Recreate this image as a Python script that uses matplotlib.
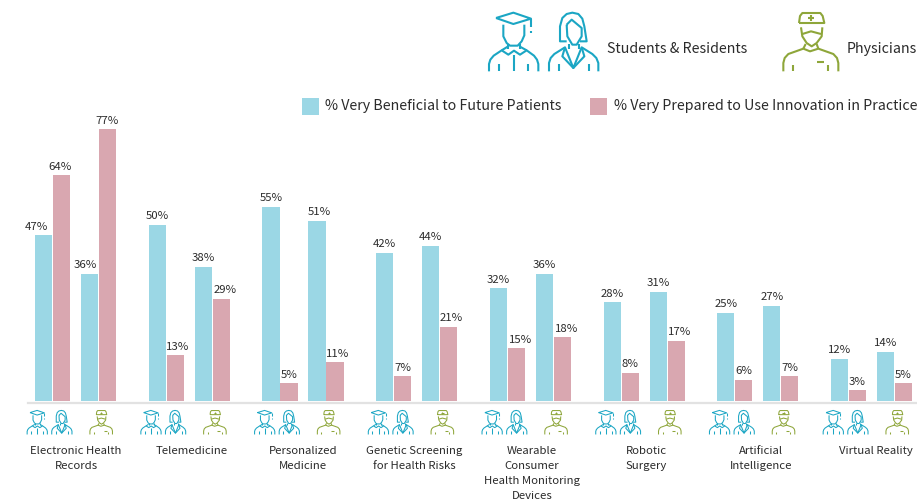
"""Survey chart: perceived benefit vs. preparedness for health care innovations."""
import matplotlib

matplotlib.use("Agg")
import matplotlib.pyplot as plt
from matplotlib.patches import Rectangle

plt.rcParams["font.family"] = ["Noto Sans CJK SC", "DejaVu Sans"]

categories = [
    "Electronic Health\nRecords",
    "Telemedicine",
    "Personalized\nMedicine",
    "Genetic Screening\nfor Health Risks",
    "Wearable\nConsumer\nHealth Monitoring\nDevices",
    "Robotic\nSurgery",
    "Artificial\nIntelligence",
    "Virtual Reality",
]
student_benefit = [47, 50, 55, 42, 32, 28, 25, 12]
student_prepared = [64, 13, 5, 7, 15, 8, 6, 3]
physician_benefit = [36, 38, 51, 44, 36, 31, 27, 14]
physician_prepared = [77, 29, 11, 21, 18, 17, 7, 5]

# sideways shift of the value labels, px
nudge_student_benefit = [-7, 0, 0, 0, 0, 0, 0, 0]
nudge_student_prepared = [-1, 2.5, 0, 0, 4, 0, 0, 0]
nudge_physician_benefit = [-4, 0, 2, 0, 0, 0, 0, 0]
nudge_physician_prepared = [0, 3.5, 3, 3, 4, 4, 0, 0]
# sideways shift of the category labels, px
nudge_category = [0.5, 2.5, 0, -2, 1.5, 2, 3.5, 4]

BLUE = "#9bd7e5"
PINK = "#d9a7b0"
TEAL = "#1ba6c4"
OLIVE = "#8ea63a"
INK = "#2b2b2b"

W, H = 917, 501
PITCH = 113.72  # px between groups
X0 = 75.5  # px of first group centre
BASE = 401  # px of the zero line
PX_PER_PCT = 3.53

# icon outlines, in 1/3 px with y pointing down
STUDENT = [
    [(33, 30), (85, 14), (138, 32), (85, 48), (33, 30)],
    [(138, 32), (138, 58)],
    [(138, 68), (138, 74)],
    [(55, 50), (55, 85), (65, 105), (75, 113), (98, 113), (110, 100), (118, 82), (118, 50)],
    [(68, 108), (68, 122)],
    [(105, 108), (105, 122)],
    [(12, 190), (12, 168), (16, 155), (26, 143), (50, 127), (70, 140), (87, 128), (105, 140),
     (125, 127), (147, 143), (156, 155), (160, 168), (160, 190)],
    [(50, 127), (68, 116)],
    [(125, 127), (105, 116)],
    [(42, 168), (42, 190)],
    [(130, 168), (130, 190)],
    [(87, 142), (87, 190)],
]
RESIDENT = [
    [(245, 100), (225, 100), (225, 55), (232, 30), (245, 18), (262, 14), (280, 18), (292, 32),
     (298, 55), (305, 100), (285, 100)],
    [(245, 50), (247, 85), (262, 110), (275, 110), (290, 85), (290, 60), (260, 35), (245, 50)],
    [(252, 108), (252, 122)],
    [(282, 108), (282, 122)],
    [(192, 190), (192, 165), (197, 150), (208, 138), (240, 118), (265, 180), (290, 118),
     (322, 138), (334, 150), (340, 165), (340, 190)],
    [(240, 118), (232, 145), (265, 180), (298, 145), (290, 118)],
    [(222, 168), (222, 190)],
    [(312, 168), (312, 190)],
]
PHYSICIAN = [
    [(72, 45), (75, 24), (82, 15), (136, 15), (143, 24), (148, 45), (72, 45)],
    [(100, 30), (116, 30)],
    [(108, 22), (108, 38)],
    [(78, 58), (82, 85), (95, 105), (110, 115), (125, 105), (140, 85), (142, 58)],
    [(82, 78), (108, 70), (138, 78)],
    [(25, 190), (25, 165), (29, 150), (40, 138), (85, 122), (105, 130), (130, 122), (175, 138),
     (186, 150), (190, 165), (190, 190)],
    [(92, 108), (85, 122)],
    [(125, 108), (130, 122)],
    [(55, 172), (55, 190)],
    [(158, 172), (158, 190)],
    [(125, 163), (147, 163)],
]


def draw_icon(ax, shape, x, y, scale, color, lw):
    """Draw an outline with its 1/3 px origin placed at pixel (x, y)."""
    for line in shape:
        xs = [x + p[0] / 3 * scale for p in line]
        ys = [y + p[1] / 3 * scale for p in line]
        ax.plot(xs, ys, color=color, lw=lw, solid_capstyle="butt", solid_joinstyle="round")


fig = plt.figure(figsize=(W / 100, H / 100), dpi=100)
ax = fig.add_axes([0, 0, 1, 1])
ax.set_xlim(-X0 / PITCH, (W - X0) / PITCH)
ax.set_ylim((BASE - H) / PX_PER_PCT, BASE / PX_PER_PCT)
ax.axis("off")

# bars, one unit on x is one group
width = 17.2 / PITCH
series = [
    (-32 / PITCH, student_benefit, nudge_student_benefit, BLUE),
    (-14 / PITCH, student_prepared, nudge_student_prepared, PINK),
    (14 / PITCH, physician_benefit, nudge_physician_benefit, BLUE),
    (32 / PITCH, physician_prepared, nudge_physician_prepared, PINK),
]
for off, values, nudges, color in series:
    for i, (v, n) in enumerate(zip(values, nudges)):
        ax.bar(i + off, v, width=width, color=color, lw=0)
        ax.text(i + off + n / PITCH, v + 1.0, f"{v}%", ha="center", va="bottom",
                fontsize=8.2, color=INK)

# overlay in reference pixels for the baseline, icons and text
px = fig.add_axes([0, 0, 1, 1], facecolor="none")
px.set_xlim(0, W)
px.set_ylim(H, 0)
px.axis("off")

px.plot([28, W], [402.5, 402.5], color="#e2e2e2", lw=1.6)

for i, label in enumerate(categories):
    cx = X0 + PITCH * i
    draw_icon(px, STUDENT, cx - 50, 408.5, 0.41, TEAL, 0.75)
    draw_icon(px, RESIDENT, cx - 50, 408.5, 0.41, TEAL, 0.75)
    draw_icon(px, PHYSICIAN, cx + 11, 408.5, 0.41, OLIVE, 0.75)
    px.text(cx + nudge_category[i], 446.5, label, ha="center", va="top", fontsize=8.2,
            color=INK, linespacing=1.62)

draw_icon(px, STUDENT, 485, 8, 1, TEAL, 1.5)
draw_icon(px, RESIDENT, 485, 8, 1, TEAL, 1.5)
draw_icon(px, PHYSICIAN, 775, 8, 1, OLIVE, 1.5)
px.text(607, 49, "Students & Residents", va="center", fontsize=10.25, color=INK)
px.text(847, 49, "Physicians", va="center", fontsize=10.25, color=INK)

px.add_patch(Rectangle((302, 98), 17, 17, color=BLUE, lw=0))
px.text(325, 106, "% Very Beneficial to Future Patients", va="center", fontsize=10.25, color=INK)
px.add_patch(Rectangle((590, 98), 17, 17, color=PINK, lw=0))
px.text(614, 106, "% Very Prepared to Use Innovation in Practice", va="center", fontsize=10.25,
        color=INK)

fig.savefig("out.png", dpi=100)
